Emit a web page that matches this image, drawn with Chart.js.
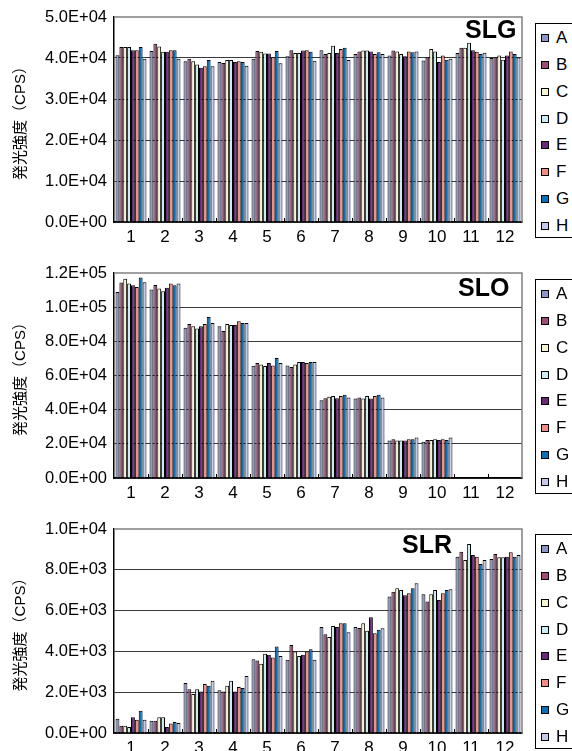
<!DOCTYPE html>
<html><head><meta charset="utf-8">
<script src="https://cdn.jsdelivr.net/npm/chart.js@4.4.1/dist/chart.umd.min.js"></script>
<style>
html,body{margin:0;padding:0;background:#fff;overflow:hidden;width:572px;height:751px;}
#wrap{position:relative;width:572px;height:751px;overflow:hidden;font-family:"Liberation Sans",Arial,sans-serif;color:#000;}
canvas{position:absolute;left:0;}
.ttl{position:absolute;font-weight:bold;font-size:25px;line-height:25px;white-space:nowrap;}
.lg{position:absolute;left:535px;width:60px;height:215px;border:1px solid #000;background:#fff;box-sizing:border-box;}
.li{position:absolute;left:0;height:20px;line-height:20px;font-size:17px;width:50px;}
.sw{position:absolute;left:5px;top:6px;width:8px;height:8px;border:1px solid #000;box-sizing:border-box;}
.tx{position:absolute;left:20px;top:0;}
</style></head><body>
<div id="wrap">
  <canvas id="c1" width="572" height="252" style="top:0px"></canvas>
  <canvas id="c2" width="572" height="252" style="top:256px"></canvas>
  <canvas id="c3" width="572" height="252" style="top:512px"></canvas>
  <div class="ttl" style="left:465px;top:17px">SLG</div>
  <div class="ttl" style="left:458px;top:275px">SLO</div>
  <div class="ttl" style="left:402px;top:532px">SLR</div>
</div>
<script>
const categories = ['1','2','3','4','5','6','7','8','9','10','11','12'];
const seriesNames = ['A','B','C','D','E','F','G','H'];
const seriesColors = ['#8E95C7','#9C4C75','#F6F4D0','#C9ECF5','#6A2778','#F08C88','#0A70B8','#C4C9E7'];
const yTitle = '発光強度（CPS）';

// SLG
const slgA = [40700,41700,39200,39000,39800,40400,41900,41000,40600,39400,41200,40000];
const slgB = [42700,43500,39800,38800,41700,41900,41000,41600,41800,40100,42500,40200];
const slgC = [42700,42800,39200,39500,41500,41200,41200,41800,41600,42200,42500,40600];
const slgD = [42700,41500,38400,39500,41100,41200,43000,41800,41000,41600,43700,39600];
const slgE = [41900,41500,37600,39000,41100,41800,41200,41600,40400,39000,41900,40600];
const slgF = [41900,41900,38000,39200,40200,41900,42200,41000,41600,40600,41500,41600];
const slgG = [42700,41900,39500,39000,41700,41500,42500,41400,41400,39600,41000,41000];
const slgH = [39800,39800,38000,38100,38700,39300,39500,41000,41600,39800,41300,40100];
const slgTicks = ['0.0E+00','1.0E+04','2.0E+04','3.0E+04','4.0E+04','5.0E+04'];

// SLO
const sloA = [108900,110300,87900,88900,65700,65900,45500,46500,22000,21200,null,null];
const sloB = [114400,113000,90100,86000,67300,65000,46700,47100,22700,22200,null,null];
const sloC = [116700,110900,88900,90100,66500,66500,47600,46500,22000,22200,null,null];
const sloD = [113800,109300,87500,89500,65500,67900,48000,48000,22000,22700,null,null];
const sloE = [112800,111400,88900,89500,67300,67900,46700,46500,22000,22200,null,null];
const sloF = [111800,113800,90100,91800,65900,67300,48000,48000,22700,22700,null,null];
const sloG = [117300,112800,94300,90800,70200,67900,48800,48800,22700,22200,null,null];
const sloH = [114600,113800,90800,90800,67300,67900,47100,47100,23700,23700,null,null];
const sloTicks = ['0.0E+00','2.0E+04','4.0E+04','6.0E+04','8.0E+04','1.0E+05','1.2E+05'];

// SLR
const slrA = [700,600,2450,2090,3620,3590,5200,5200,6690,6800,8640,8530];
const slrB = [360,600,2150,2040,3560,4310,4840,5150,6930,6440,8890,8770];
const slrC = [360,770,1910,2320,3390,4000,4710,5380,7100,6800,8480,8610];
const slrD = [290,770,2150,2560,3880,3780,5250,5010,7010,7010,9260,8610];
const slrE = [770,290,2040,2040,3830,3830,5200,5680,6750,6520,8720,8640];
const slrF = [650,460,2400,2250,3700,4000,5380,4890,6850,6850,8640,8860];
const slrG = [1090,540,2320,2200,4240,4110,5380,5060,7100,7010,8290,8640];
const slrH = [650,490,2560,2800,3780,3590,4940,5140,7340,7050,8480,8720];
const slrTicks = ['0.0E+00','2.0E+03','4.0E+03','6.0E+03','8.0E+03','1.0E+04'];

Chart.defaults.font.family = '"Liberation Sans", "Noto Sans CJK JP", Arial, sans-serif';
Chart.defaults.color = '#000';

const framePlugin = {
  id: 'frame',
  afterDatasetsDraw(chart) {
    const {ctx, chartArea: a, scales: {x}} = chart;
    ctx.save();
    // inward tick marks at category boundaries
    ctx.strokeStyle = '#000';
    ctx.lineWidth = 1;
    const n = x.ticks.length;
    const w = (a.right - a.left) / n;
    for (let i = 1; i < n; i++) {
      const px = Math.round(a.left + i * w) + 0.5;
      ctx.beginPath(); ctx.moveTo(px, a.bottom); ctx.lineTo(px, a.bottom - 4); ctx.stroke();
    }
    // grey top and right border
    ctx.strokeStyle = '#808080';
    ctx.lineWidth = 1.5;
    ctx.beginPath();
    ctx.moveTo(a.left, a.top); ctx.lineTo(a.right, a.top); ctx.lineTo(a.right, a.bottom);
    ctx.stroke();
    ctx.restore();
  }
};

function makeChart(id, series, max, step, tickLabels, padTop, padBottom) {
  const datasets = series.map((d, i) => ({
    label: seriesNames[i],
    data: d,
    backgroundColor: seriesColors[i],
    borderColor: '#000',
    borderWidth: 1,
    categoryPercentage: 0.91,
    barPercentage: 1.0
  }));
  return new Chart(document.getElementById(id), {
    type: 'bar',
    data: { labels: categories, datasets },
    options: {
      responsive: false,
      animation: false,
      devicePixelRatio: 1,
      layout: { padding: { top: padTop, right: 50, bottom: padBottom, left: 0 } },
      plugins: { legend: { display: false }, tooltip: { enabled: false }, title: { display: false } },
      scales: {
        x: {
          offset: true,
          grid: { display: true, drawOnChartArea: false, drawTicks: false },
          border: { display: true, color: '#000', width: 1.5 },
          ticks: { font: { size: 17 }, color: '#000', padding: 5, maxRotation: 0, autoSkip: false },
          afterFit: s => { s.height = 30; }
        },
        y: {
          min: 0, max: max,
          grid: {
            drawTicks: false,
            color: c => (c.tick && c.tick.value >= max) ? 'rgba(0,0,0,0)' : '#3a3a3a',
            lineWidth: 1
          },
          border: { display: true, color: '#000', width: 1.5 },
          ticks: {
            stepSize: step,
            font: { size: 16.5 },
            color: '#000',
            padding: 7,
            callback: (v, i) => tickLabels[i]
          },
          title: {
            display: true,
            text: yTitle,
            font: { size: 15 },
            color: '#000',
            padding: { top: 12, bottom: 0 }
          },
          afterFit: s => { s.width = 114; }
        }
      }
    },
    plugins: [framePlugin]
  });
}

makeChart('c1', [slgA,slgB,slgC,slgD,slgE,slgF,slgG,slgH], 50000, 10000, slgTicks, 17, 0);
makeChart('c2', [sloA,sloB,sloC,sloD,sloE,sloF,sloG,sloH], 120000, 20000, sloTicks, 17, 0);
makeChart('c3', [slrA,slrB,slrC,slrD,slrE,slrF,slrG,slrH], 10000, 2000, slrTicks, 17, 1);

function makeLegend(top) {
  const box = document.createElement('div');
  box.className = 'lg';
  box.style.top = top + 'px';
  seriesNames.forEach((n, i) => {
    const row = document.createElement('div');
    row.className = 'li';
    row.style.top = (4 + i * 26.85) + 'px';
    const sw = document.createElement('div');
    sw.className = 'sw';
    sw.style.background = seriesColors[i];
    const tx = document.createElement('span');
    tx.className = 'tx';
    tx.textContent = n;
    row.appendChild(sw); row.appendChild(tx);
    box.appendChild(row);
  });
  document.getElementById('wrap').appendChild(box);
}
makeLegend(23);
makeLegend(279);
makeLegend(534);
</script>
</body></html>
